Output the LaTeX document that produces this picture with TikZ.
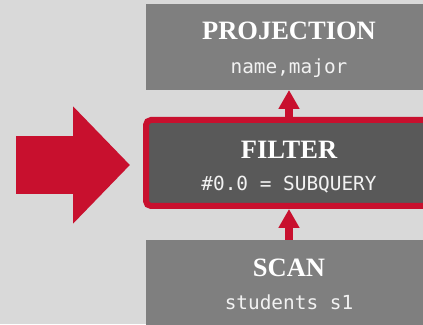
\documentclass[tikz,border=0pt]{standalone}
\usepackage{fontspec}
\setmainfont{Liberation Serif}
\setmonofont{DejaVu Sans Mono}
\usetikzlibrary{arrows.meta}

\definecolor{canvas}{HTML}{D9D9D9}
\definecolor{opgray}{HTML}{7F7F7F}
\definecolor{opdark}{HTML}{595959}
\definecolor{accent}{RGB}{200,16,46}

\tikzset{
  opbox/.style={rectangle, fill=opgray, minimum width=286pt, minimum height=86pt,
    inner sep=0pt, outer sep=0pt},
  activebox/.style={rectangle, fill=opdark, draw=accent, line width=6pt,
    rounded corners=5pt, minimum width=286pt, minimum height=86pt, inner sep=0pt},
  optitle/.style={anchor=base, inner sep=0pt, text=white,
    font=\fontsize{26.5}{30}\selectfont\bfseries},
  opdetail/.style={anchor=base, inner sep=0pt, text=white!95!black,
    font=\fontsize{19.4}{22}\selectfont\ttfamily},
  flow/.style={draw=accent, line width=8pt, -{Triangle[width=20pt,length=19pt]}},
  pointer/.style={draw=accent, line width=58pt, -{Triangle[width=114pt,length=57pt]}}
}

\begin{document}
\begin{tikzpicture}[x=1pt, y=1pt]
  \useasboundingbox (0,0) rectangle (423,324);
  \fill[canvas] (0,0) rectangle (423,324);

  % operator boxes
  \node[opbox] (proj) at (289,277) {};
  \node[activebox] (filter) at (289,161) {};
  \node[opbox] (scan) at (289,41) {};

  % labels
  \node[optitle] (projT) at ([yshift=7pt]proj.center) {PROJECTION};
  \node[opdetail] (projD) at ([yshift=-27pt]proj.center) {name,major};
  \node[optitle] (filterT) at ([yshift=4pt]filter.center) {FILTER};
  \node[opdetail] (filterD) at ([yshift=-28pt]filter.center) {\#0.0 = SUBQUERY};
  \node[optitle] (scanT) at ([yshift=6.5pt]scan.center) {SCAN};
  \node[opdetail] (scanD) at ([yshift=-27pt]scan.center) {students s1};

  % data flow between operators
  \draw[flow] (filter.north) -- (proj.south);
  \draw[flow] (scan.north) -- (filter.south);

  % big pointer at the current operator
  \coordinate (ptail) at (16,159);
  \coordinate (ptip) at (130,159);
  \draw[pointer] (ptail) -- (ptip);
\end{tikzpicture}
\end{document}
